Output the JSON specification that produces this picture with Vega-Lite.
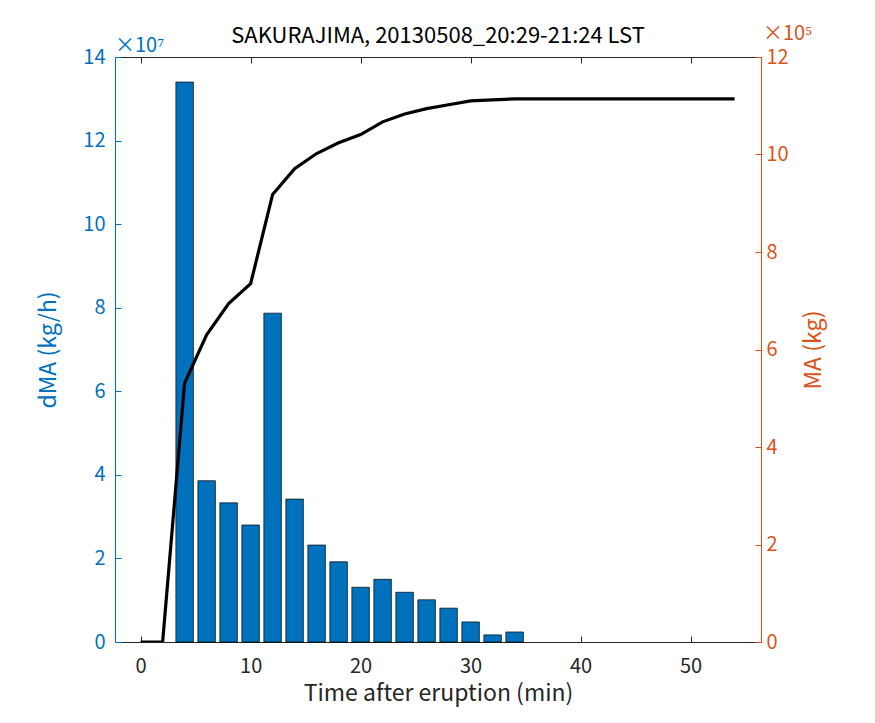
{
  "$schema": "https://vega.github.io/schema/vega-lite/v6.json",
  "width": 646,
  "height": 585,
  "autosize": {"type": "none"},
  "padding": {"left": 115, "top": 57, "right": 114, "bottom": 81},
  "background": "white",
  "title": {
    "text": "SAKURAJIMA, 20130508_20:29-21:24 LST",
    "font": "Noto Sans CJK JP",
    "fontSize": 22,
    "fontWeight": "normal",
    "color": "#000000",
    "frame": "group",
    "baseline": "bottom",
    "offset": 4,
    "dy": 50
  },
  "config": {
    "view": {"stroke": "#262626", "strokeWidth": 1},
    "axis": {
      "grid": false,
      "labelFont": "Noto Sans CJK JP",
      "titleFont": "Noto Sans CJK JP",
      "labelFontSize": 20,
      "titleFontSize": 23,
      "titleFontWeight": "normal",
      "tickSize": -6,
      "domainWidth": 1,
      "tickWidth": 1
    }
  },
  "datasets": {
    "rate": [
      {"time": 4, "dMA": 134000000},
      {"time": 6, "dMA": 38600000},
      {"time": 8, "dMA": 33300000},
      {"time": 10, "dMA": 28000000},
      {"time": 12, "dMA": 78700000},
      {"time": 14, "dMA": 34200000},
      {"time": 16, "dMA": 23200000},
      {"time": 18, "dMA": 19200000},
      {"time": 20, "dMA": 13100000},
      {"time": 22, "dMA": 15000000},
      {"time": 24, "dMA": 11900000},
      {"time": 26, "dMA": 10100000},
      {"time": 28, "dMA": 8100000},
      {"time": 30, "dMA": 4800000},
      {"time": 32, "dMA": 1700000},
      {"time": 34, "dMA": 2400000}
    ],
    "mass": [
      {"time": 0, "MA": 0},
      {"time": 2, "MA": 0},
      {"time": 4, "MA": 531000},
      {"time": 6, "MA": 630000},
      {"time": 8, "MA": 694000},
      {"time": 10, "MA": 735000},
      {"time": 12, "MA": 918000},
      {"time": 14, "MA": 971000},
      {"time": 16, "MA": 1002000},
      {"time": 18, "MA": 1024000},
      {"time": 20, "MA": 1041000},
      {"time": 22, "MA": 1067000},
      {"time": 24, "MA": 1083000},
      {"time": 26, "MA": 1094000},
      {"time": 28, "MA": 1102000},
      {"time": 30, "MA": 1110000},
      {"time": 32, "MA": 1112000},
      {"time": 34, "MA": 1114000},
      {"time": 36, "MA": 1114000},
      {"time": 38, "MA": 1114000},
      {"time": 40, "MA": 1114000},
      {"time": 42, "MA": 1114000},
      {"time": 44, "MA": 1114000},
      {"time": 46, "MA": 1114000},
      {"time": 48, "MA": 1114000},
      {"time": 50, "MA": 1114000},
      {"time": 52, "MA": 1114000},
      {"time": 54, "MA": 1114000}
    ],
    "exponents": [
      {"side": "left", "label": "×10⁷", "time": -2.33, "value": 140000000},
      {"side": "right", "label": "×10⁵", "time": 56.4, "value": 1200000}
    ]
  },
  "layer": [
    {
      "data": {"name": "rate"},
      "mark": {"type": "bar", "size": 17.5, "color": "#0072BD", "stroke": "#000000", "strokeWidth": 0.7},
      "encoding": {
        "x": {
          "field": "time",
          "type": "quantitative",
          "scale": {"domain": [-2.33, 56.4], "nice": false, "zero": false, "padding": 0},
          "axis": {
            "orient": "bottom",
            "values": [0, 10, 20, 30, 40, 50],
            "title": "Time after eruption (min)",
            "domainColor": "#262626",
            "tickColor": "#262626",
            "labelColor": "#262626",
            "titleColor": "#262626",
            "labelPadding": 20,
            "titlePadding": 6
          }
        },
        "y": {
          "field": "dMA",
          "type": "quantitative",
          "scale": {"domain": [0, 140000000], "nice": false, "padding": 0},
          "axis": {
            "orient": "left",
            "values": [0, 20000000, 40000000, 60000000, 80000000, 100000000, 120000000, 140000000],
            "labelExpr": "format(datum.value / 10000000, 'd')",
            "title": "dMA (kg/h)",
            "domainColor": "#0072BD",
            "tickColor": "#0072BD",
            "labelColor": "#0072BD",
            "titleColor": "#0072BD",
            "labelPadding": 16,
            "titlePadding": 22
          }
        }
      }
    },
    {
      "data": {"name": "mass"},
      "mark": {"type": "line", "color": "#000000", "strokeWidth": 3.2, "clip": true},
      "encoding": {
        "x": {
          "field": "time",
          "type": "quantitative",
          "scale": {"domain": [-2.33, 56.4], "nice": false, "zero": false, "padding": 0},
          "axis": {
            "orient": "top",
            "values": [0, 10, 20, 30, 40, 50],
            "labels": false,
            "title": null,
            "domainColor": "#262626",
            "tickColor": "#262626"
          }
        },
        "y": {
          "field": "MA",
          "type": "quantitative",
          "scale": {"domain": [0, 1200000], "nice": false, "padding": 0},
          "axis": {
            "orient": "right",
            "values": [0, 200000, 400000, 600000, 800000, 1000000, 1200000],
            "labelExpr": "format(datum.value / 100000, 'd')",
            "title": "MA (kg)",
            "titleAngle": 270,
            "titleBaseline": "top",
            "domainColor": "#D95319",
            "tickColor": "#D95319",
            "labelColor": "#D95319",
            "titleColor": "#D95319",
            "labelPadding": 11,
            "titlePadding": 14
          }
        }
      }
    },
    {
      "data": {"name": "exponents"},
      "transform": [{"filter": "datum.side === 'left'"}],
      "mark": {"type": "text", "align": "left", "baseline": "bottom", "dy": -1, "font": "Noto Sans CJK JP", "fontSize": 20, "color": "#0072BD"},
      "encoding": {
        "x": {"field": "time", "type": "quantitative", "scale": {"domain": [-2.33, 56.4], "nice": false, "zero": false, "padding": 0}, "axis": null},
        "y": {"field": "value", "type": "quantitative", "scale": {"domain": [0, 140000000], "nice": false, "padding": 0}, "axis": null},
        "text": {"field": "label"}
      }
    },
    {
      "data": {"name": "exponents"},
      "transform": [{"filter": "datum.side === 'right'"}],
      "mark": {"type": "text", "align": "left", "baseline": "bottom", "dx": 2, "dy": -13, "font": "Noto Sans CJK JP", "fontSize": 20, "color": "#D95319"},
      "encoding": {
        "x": {"field": "time", "type": "quantitative", "scale": {"domain": [-2.33, 56.4], "nice": false, "zero": false, "padding": 0}, "axis": null},
        "y": {"field": "value", "type": "quantitative", "scale": {"domain": [0, 1200000], "nice": false, "padding": 0}, "axis": null},
        "text": {"field": "label"}
      }
    }
  ],
  "resolve": {"scale": {"x": "independent", "y": "independent"}, "axis": {"x": "independent", "y": "independent"}}
}
